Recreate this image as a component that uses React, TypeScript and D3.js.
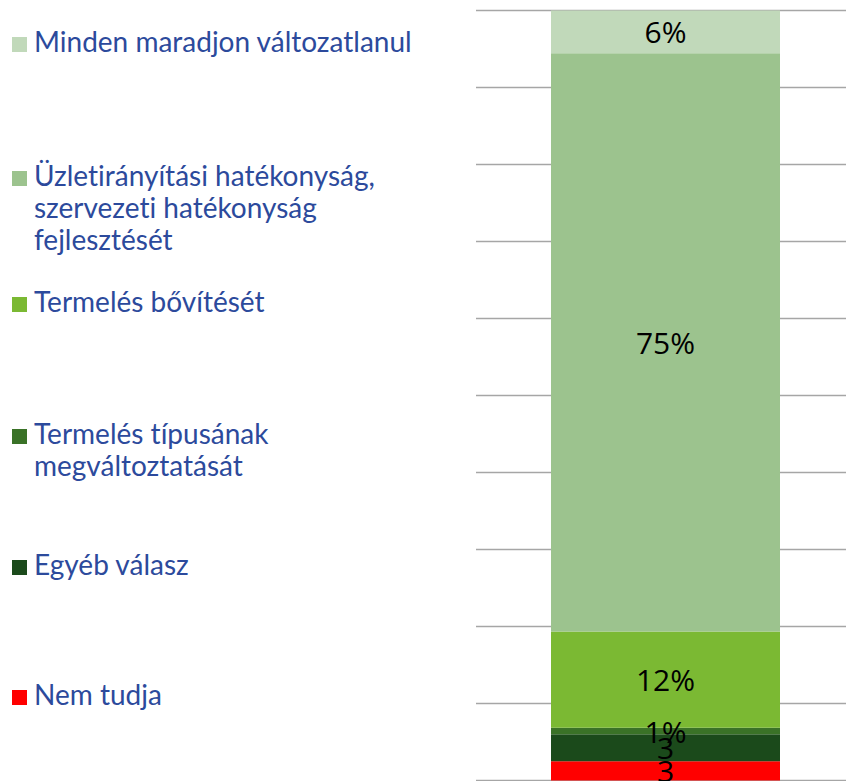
import React from "react";
import * as d3 from "d3";

const categories = [
  "Nem tudja",
  "Egyéb válasz",
  "Termelés típusának megváltoztatását",
  "Termelés bővítését",
  "Üzletirányítási hatékonyság, szervezeti hatékonyság fejlesztését",
  "Minden maradjon változatlanul",
];
const values = [2.5, 3.5, 0.85, 12.5, 75.1, 5.55];
const valueLabels = ["3", "3", "1%", "12%", "75%", "6%"];
const colors = ["#FF0000", "#1B4A1B", "#3A7227", "#7BB933", "#9CC38E", "#C1D9BA"];
const legendLines = [
  ["Nem tudja"],
  ["Egyéb válasz"],
  ["Termelés típusának", "megváltoztatását"],
  ["Termelés bővítését"],
  ["Üzletirányítási hatékonyság,", "szervezeti hatékonyság", "fejlesztését"],
  ["Minden maradjon változatlanul"],
];
const legendBaselines = [705, 575, 444, 312, 186, 52];
const yTicks = d3.range(0, 101, 10);

export default function App() {
  const W = 846, H = 781;
  const y = d3.scaleLinear().domain([0, 100]).range([780.5, 10.5]);
  const x0 = 551, x1 = 780;
  const stack = d3.stack<any>().keys(categories)([
    Object.fromEntries(categories.map((c, i) => [c, values[i]])),
  ]);
  return (
    <svg width={W} height={H} style={{ position: "absolute", left: 0, top: 0, background: "#fff" }}>
      {yTicks.map((t) => (
        <line key={t} x1={476} x2={W} y1={y(t)} y2={y(t)} stroke="#A6A6A6" strokeWidth={1.3} />
      ))}
      {stack.map((s, i) => {
        const [a, b] = s[0];
        return (
          <rect key={i} x={x0} width={x1 - x0} y={y(b)} height={y(a) - y(b)} fill={colors[i]} />
        );
      })}
      {stack.map((s, i) => {
        const [a, b] = s[0];
        return (
          <text
            key={"l" + i}
            x={(x0 + x1) / 2}
            y={y((a + b) / 2)}
            textAnchor="middle"
            dominantBaseline="central"
            fontFamily="'Open Sans', sans-serif"
            fontSize={30}
            fill="#000"
          >
            {valueLabels[i]}
          </text>
        );
      })}
      {categories.map((c, i) => (
        <g key={"g" + i}>
          <rect x={12} y={legendBaselines[i] - 15} width={15} height={15} fill={colors[i]} />
          <text
            fontFamily="Lato, sans-serif"
            fontSize={28}
            fill="#2C4A9C"
            style={{ fontVariantLigatures: "none" }}
          >
            {legendLines[i].map((ln, j) => (
              <tspan key={j} x={34} y={legendBaselines[i] + j * 32}>
                {ln}
              </tspan>
            ))}
          </text>
        </g>
      ))}
    </svg>
  );
}
